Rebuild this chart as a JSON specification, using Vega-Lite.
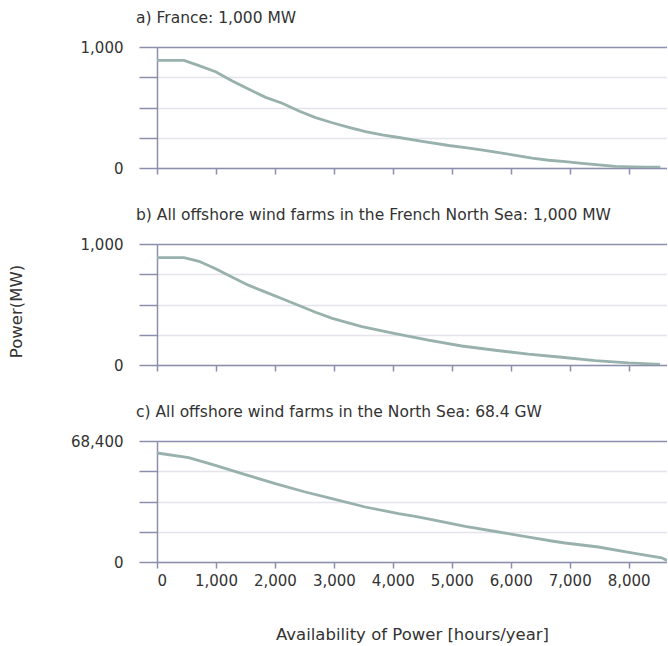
{
  "$schema": "https://vega.github.io/schema/vega-lite/v6.json",
  "background": "white",
  "padding": {"left": 8, "top": 10, "right": 0, "bottom": 0},
  "spacing": 76,
  "bounds": "flush",
  "config": {
    "font": "DejaVu Sans",
    "view": {"stroke": null},
    "axis": {
      "domainColor": "#8a8fad",
      "tickColor": "#8a8fad",
      "domainWidth": 1.5,
      "tickWidth": 1.5,
      "gridWidth": 1.5,
      "labelColor": "#333333",
      "titleColor": "#333333",
      "labelFontSize": 15,
      "titleFontSize": 16.5,
      "titleFontWeight": "normal",
      "labelFont": "DejaVu Sans",
      "titleFont": "DejaVu Sans"
    },
    "title": {"fontSize": 15.5, "fontWeight": "normal", "color": "#333333", "font": "DejaVu Sans"}
  },
  "datasets": {
    "a": [
      {"hours": 0, "power": 890}, {"hours": 458, "power": 890}, {"hours": 712, "power": 846},
      {"hours": 994, "power": 796}, {"hours": 1277, "power": 719}, {"hours": 1559, "power": 650},
      {"hours": 1842, "power": 584}, {"hours": 2124, "power": 535}, {"hours": 2407, "power": 471},
      {"hours": 2689, "power": 416}, {"hours": 2972, "power": 374}, {"hours": 3254, "power": 336},
      {"hours": 3537, "power": 300}, {"hours": 3819, "power": 273}, {"hours": 4102, "power": 252},
      {"hours": 4500, "power": 220}, {"hours": 4949, "power": 186}, {"hours": 5232, "power": 168},
      {"hours": 5500, "power": 150}, {"hours": 5797, "power": 128}, {"hours": 6080, "power": 105},
      {"hours": 6362, "power": 82}, {"hours": 6644, "power": 64}, {"hours": 6927, "power": 52},
      {"hours": 7209, "power": 39}, {"hours": 7492, "power": 25}, {"hours": 7774, "power": 14},
      {"hours": 8057, "power": 10}, {"hours": 8300, "power": 8}, {"hours": 8537, "power": 7}
    ],
    "b": [
      {"hours": 0, "power": 887}, {"hours": 458, "power": 887}, {"hours": 712, "power": 857},
      {"hours": 994, "power": 796}, {"hours": 1277, "power": 726}, {"hours": 1559, "power": 658},
      {"hours": 1842, "power": 602}, {"hours": 2124, "power": 547}, {"hours": 2407, "power": 492},
      {"hours": 2689, "power": 436}, {"hours": 2972, "power": 386}, {"hours": 3475, "power": 318},
      {"hours": 4040, "power": 260}, {"hours": 4605, "power": 205}, {"hours": 5169, "power": 157},
      {"hours": 5736, "power": 122}, {"hours": 6300, "power": 89}, {"hours": 6864, "power": 64},
      {"hours": 7431, "power": 36}, {"hours": 7995, "power": 17}, {"hours": 8532, "power": 6}
    ],
    "c": [
      {"hours": 0, "power": 61620}, {"hours": 537, "power": 59000}, {"hours": 990, "power": 54660},
      {"hours": 1441, "power": 49970}, {"hours": 2006, "power": 44320}, {"hours": 2515, "power": 39570},
      {"hours": 2968, "power": 35840}, {"hours": 3532, "power": 31090}, {"hours": 4097, "power": 27360},
      {"hours": 4380, "power": 25830}, {"hours": 4661, "power": 23970}, {"hours": 5227, "power": 20180},
      {"hours": 5792, "power": 16960}, {"hours": 6356, "power": 13790}, {"hours": 6695, "power": 11870},
      {"hours": 6922, "power": 10740}, {"hours": 7486, "power": 8480}, {"hours": 8051, "power": 5090},
      {"hours": 8560, "power": 2400}, {"hours": 8650, "power": 900}
    ]
  },
  "vconcat": [
    {
      "width": 510,
      "height": 121,
      "title": {"text": "a) France: 1,000 MW", "anchor": "start", "frame": "group", "dx": -21, "offset": 14},
      "data": {"name": "a"},
      "mark": {"type": "line", "color": "#99b1ac", "strokeWidth": 2.8, "clip": true},
      "encoding": {
        "x": {"field": "hours", "type": "quantitative", "scale": {"domain": [0, 8650], "nice": false},
          "axis": {"values": [0, 1000, 2000, 3000, 4000, 5000, 6000, 7000, 8000], "tickSize": 6, "labels": false, "title": null, "grid": false}},
        "y": {"field": "power", "type": "quantitative", "scale": {"domain": [0, 1000], "nice": false},
          "axis": {"values": [0, 250, 500, 750, 1000], "labelExpr": "datum.value == 0 || datum.value == 1000 ? format(datum.value, ',') : ''",
            "tickSize": 18, "labelPadding": 16, "grid": true, "title": null,
            "gridColor": {"condition": {"test": "datum.value == 1000", "value": "#8a8fad"}, "value": "#e4e4ea"}}}
      }
    },
    {
      "width": 510,
      "height": 121,
      "title": {"text": "b) All offshore wind farms in the French North Sea: 1,000 MW", "anchor": "start", "frame": "group", "dx": -21, "offset": 14},
      "data": {"name": "b"},
      "mark": {"type": "line", "color": "#99b1ac", "strokeWidth": 2.8, "clip": true},
      "encoding": {
        "x": {"field": "hours", "type": "quantitative", "scale": {"domain": [0, 8650], "nice": false},
          "axis": {"values": [0, 1000, 2000, 3000, 4000, 5000, 6000, 7000, 8000], "tickSize": 6, "labels": false, "title": null, "grid": false}},
        "y": {"field": "power", "type": "quantitative", "scale": {"domain": [0, 1000], "nice": false},
          "axis": {"values": [0, 250, 500, 750, 1000], "labelExpr": "datum.value == 0 || datum.value == 1000 ? format(datum.value, ',') : ''",
            "tickSize": 18, "labelPadding": 16, "grid": true, "title": "Power(MW)", "titleX": -141, "titleY": 67, "titleAngle": -90,
            "titleAlign": "center", "titleBaseline": "middle",
            "gridColor": {"condition": {"test": "datum.value == 1000", "value": "#8a8fad"}, "value": "#e4e4ea"}}}
      }
    },
    {
      "width": 510,
      "height": 121,
      "title": {"text": "c) All offshore wind farms in the North Sea: 68.4 GW", "anchor": "start", "frame": "group", "dx": -21, "offset": 14},
      "data": {"name": "c"},
      "mark": {"type": "line", "color": "#99b1ac", "strokeWidth": 2.8, "clip": true},
      "encoding": {
        "x": {"field": "hours", "type": "quantitative", "scale": {"domain": [0, 8650], "nice": false},
          "axis": {"values": [0, 1000, 2000, 3000, 4000, 5000, 6000, 7000, 8000], "tickSize": 6, "labelPadding": 5,
            "labelExpr": "format(datum.value, ',')",
            "title": "Availability of Power [hours/year]", "titlePadding": 38, "grid": false}},
        "y": {"field": "power", "type": "quantitative", "scale": {"domain": [0, 68400], "nice": false},
          "axis": {"values": [0, 17100, 34200, 51300, 68400], "labelExpr": "datum.value == 0 || datum.value == 68400 ? format(datum.value, ',') : ''",
            "tickSize": 18, "labelPadding": 16, "grid": true, "title": null,
            "gridColor": {"condition": {"test": "datum.value == 68400", "value": "#8a8fad"}, "value": "#e4e4ea"}}}
      }
    }
  ]
}
